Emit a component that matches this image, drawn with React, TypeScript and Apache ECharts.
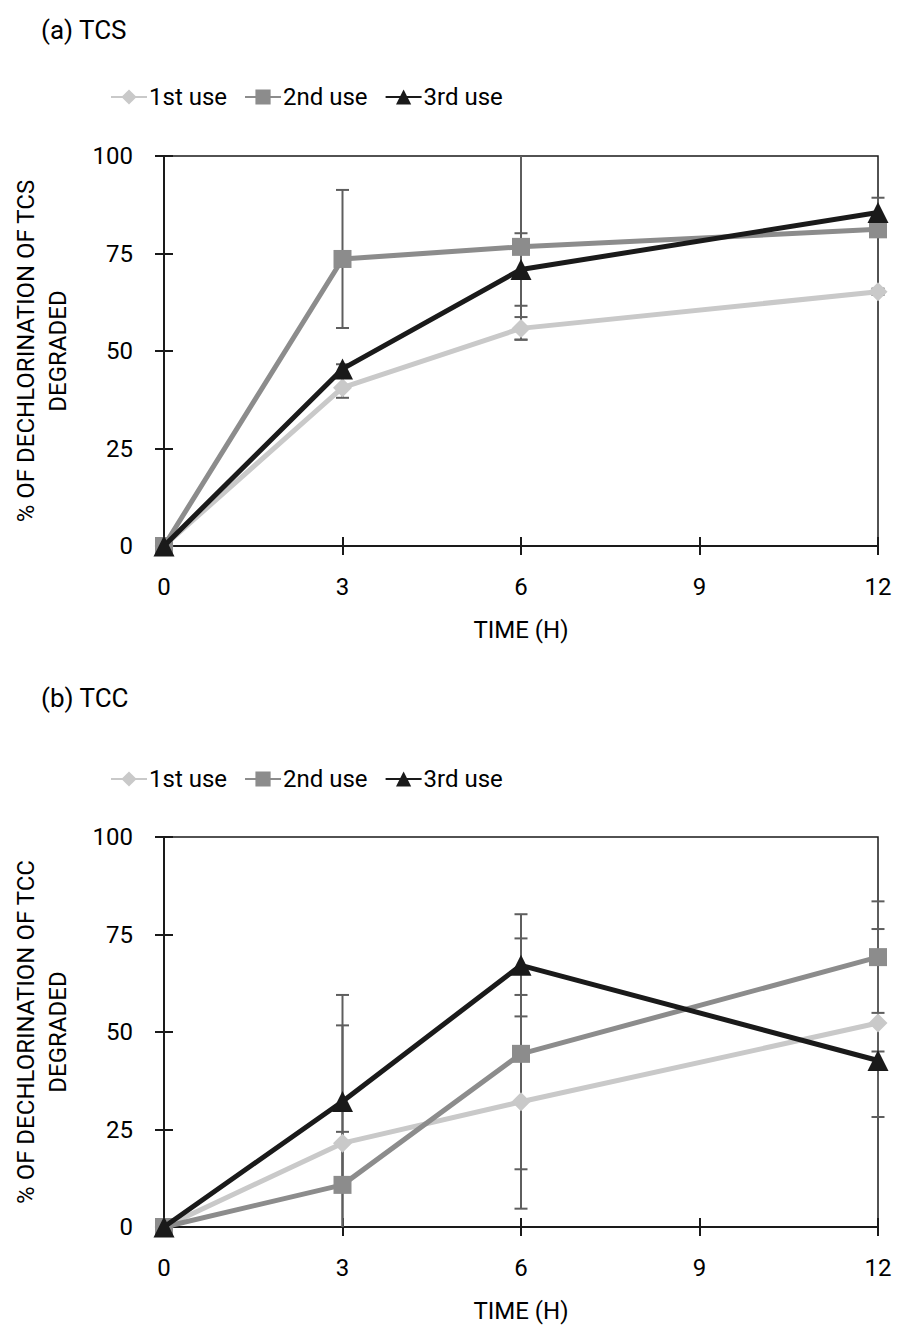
import React, { useEffect, useRef } from "react";
import * as echarts from "echarts";

const times = [0, 3, 6, 12];
const seriesNames = ["1st use", "2nd use", "3rd use"];
const panelTitles = ["(a) TCS", "(b) TCC"];
const yNames = [
  "% OF DECHLORINATION OF TCS\nDEGRADED",
  "% OF DECHLORINATION OF TCC\nDEGRADED",
];
const xName = "TIME (H)";

// (a) TCS
const tcsFirst = [0, 40.6, 55.8, 65.2];
const tcsFirstErr = [0, 2.6, 2.9, 0.8];
const tcsSecond = [0, 73.6, 76.7, 81.2];
const tcsSecondErr = [0, 17.7, 23.8, 0.8];
const tcsThird = [0, 45.4, 70.9, 85.5];
const tcsThirdErr = [0, 1.2, 9.3, 3.8];

// (b) TCC
const tccFirst = [0, 21.5, 32.1, 52.3];
const tccFirstErr = [0, 38.0, 27.4, 24.1];
const tccSecond = [0, 10.8, 44.4, 69.2];
const tccSecondErr = [0, 13.6, 29.6, 14.3];
const tccThird = [0, 32.2, 67.1, 42.7];
const tccThirdErr = [0, 19.5, 13.1, 2.3];

const colors = ["#c9c9c9", "#8c8c8c", "#1a1a1a"];
const symbols = ["diamond", "rect", "triangle"];
const symbolSizes = [19, 18, 21];
const FONT = "Roboto, 'DejaVu Sans Condensed', sans-serif";
const TEXT = "#000000";
const FS = 24;

export default function App() {
  const ref = useRef<HTMLDivElement>(null);
  useEffect(() => {
    document.body.style.margin = "0";
    if (!ref.current) return;
    const chart = echarts.init(ref.current, null, { renderer: "svg" });

    const panels = [
      { vals: [tcsFirst, tcsSecond, tcsThird], errs: [tcsFirstErr, tcsSecondErr, tcsThirdErr] },
      { vals: [tccFirst, tccSecond, tccThird], errs: [tccFirstErr, tccSecondErr, tccThirdErr] },
    ];
    const gridTops = [156, 837];
    const plotH = 390;

    const grids: any[] = [];
    const xAxes: any[] = [];
    const yAxes: any[] = [];
    const series: any[] = [];
    const legends: any[] = [];
    const titles: any[] = [];

    panels.forEach((p, gi) => {
      grids.push({
        left: 164,
        right: 22,
        top: gridTops[gi],
        height: plotH,
        show: true,
        borderColor: "#1a1a1a",
        borderWidth: 1.5,
        backgroundColor: "transparent",
      });
      const axisLineStyle = { color: "#1a1a1a", width: 2 };
      xAxes.push({
        gridIndex: gi,
        type: "value",
        min: 0,
        max: 12,
        interval: 3,
        position: "bottom",
        axisLine: { show: true, onZero: false, lineStyle: axisLineStyle },
        axisTick: { show: true, length: 9, lineStyle: axisLineStyle },
        axisLabel: { margin: 29, fontSize: FS, color: TEXT, fontFamily: FONT },
        splitLine: { show: false },
        name: xName,
        nameLocation: "middle",
        nameGap: 72,
        nameTextStyle: { fontSize: FS, color: TEXT, fontFamily: FONT },
      });
      xAxes.push({
        gridIndex: gi,
        type: "value",
        min: 0,
        max: 12,
        interval: 3,
        position: "bottom",
        axisLine: { show: false, onZero: false },
        axisTick: { show: true, inside: true, length: 9, lineStyle: axisLineStyle },
        axisLabel: { show: false },
        splitLine: { show: false },
      });
      yAxes.push({
        gridIndex: gi,
        type: "value",
        min: 0,
        max: 100,
        interval: 25,
        position: "left",
        axisLine: { show: true, onZero: false, lineStyle: axisLineStyle },
        axisTick: { show: true, length: 9, lineStyle: axisLineStyle },
        axisLabel: { margin: 31, fontSize: FS, color: TEXT, fontFamily: FONT },
        splitLine: { show: false },
        name: yNames[gi],
        nameLocation: "middle",
        nameRotate: 90,
        nameGap: 90,
        nameTextStyle: { fontSize: FS, color: TEXT, fontFamily: FONT, lineHeight: 32, align: "center" },
      });
      yAxes.push({
        gridIndex: gi,
        type: "value",
        min: 0,
        max: 100,
        interval: 25,
        position: "left",
        axisLine: { show: false, onZero: false },
        axisTick: { show: true, inside: true, length: 9, lineStyle: axisLineStyle },
        axisLabel: { show: false },
        splitLine: { show: false },
      });

      const errData: any[] = [];
      p.vals.forEach((vals, si) => {
        vals.forEach((v, i) => {
          const e = p.errs[si][i];
          if (e > 0) errData.push([times[i], v - e, v + e]);
        });
      });
      series.push({
        type: "custom",
        name: "err" + gi,
        xAxisIndex: gi * 2,
        yAxisIndex: gi * 2,
        z: 1,
        silent: true,
        data: errData,
        renderItem: (params: any, api: any) => {
          const x = api.value(0);
          const lo = api.value(1);
          const hi = api.value(2);
          const pTop = api.coord([x, Math.min(hi, 100)]);
          const pBot = api.coord([x, Math.max(lo, 0)]);
          const st = { stroke: "#5e5e5e", lineWidth: 2 };
          const children: any[] = [
            { type: "line", shape: { x1: pTop[0], y1: pTop[1], x2: pBot[0], y2: pBot[1] }, style: st },
          ];
          const w = 6.5;
          if (hi <= 100)
            children.push({ type: "line", shape: { x1: pTop[0] - w, y1: pTop[1], x2: pTop[0] + w, y2: pTop[1] }, style: st });
          if (lo >= 0)
            children.push({ type: "line", shape: { x1: pBot[0] - w, y1: pBot[1], x2: pBot[0] + w, y2: pBot[1] }, style: st });
          return { type: "group", children };
        },
      });

      p.vals.forEach((vals, si) => {
        series.push({
          type: "line",
          name: seriesNames[si],
          xAxisIndex: gi * 2,
          yAxisIndex: gi * 2,
          data: vals.map((v, i) => [times[i], v]),
          symbol: symbols[si],
          symbolSize: symbolSizes[si],
          showAllSymbol: true,
          clip: false,
          z: 3 + si,
          itemStyle: { color: colors[si] },
          lineStyle: { color: colors[si], width: 5 },
        });
      });

      legends.push({
        data: seriesNames,
        left: 105,
        top: gi === 0 ? 80 : 762,
        itemWidth: 36,
        itemHeight: 19,
        itemGap: 17,
        textStyle: { fontSize: FS, color: TEXT, fontFamily: FONT, padding: [0, 0, 0, -3] },
        selectedMode: false,
      });
      titles.push({
        text: panelTitles[gi],
        left: 36,
        top: gi === 0 ? 12 : 680,
        textStyle: { fontSize: 26, fontWeight: "normal", color: TEXT, fontFamily: FONT },
      });
    });

    chart.setOption({
      animation: false,
      backgroundColor: "#ffffff",
      title: titles,
      legend: legends,
      grid: grids,
      xAxis: xAxes,
      yAxis: yAxes,
      series,
    });
    return () => chart.dispose();
  }, []);
  return <div ref={ref} style={{ width: 900, height: 1338 }} />;
}
